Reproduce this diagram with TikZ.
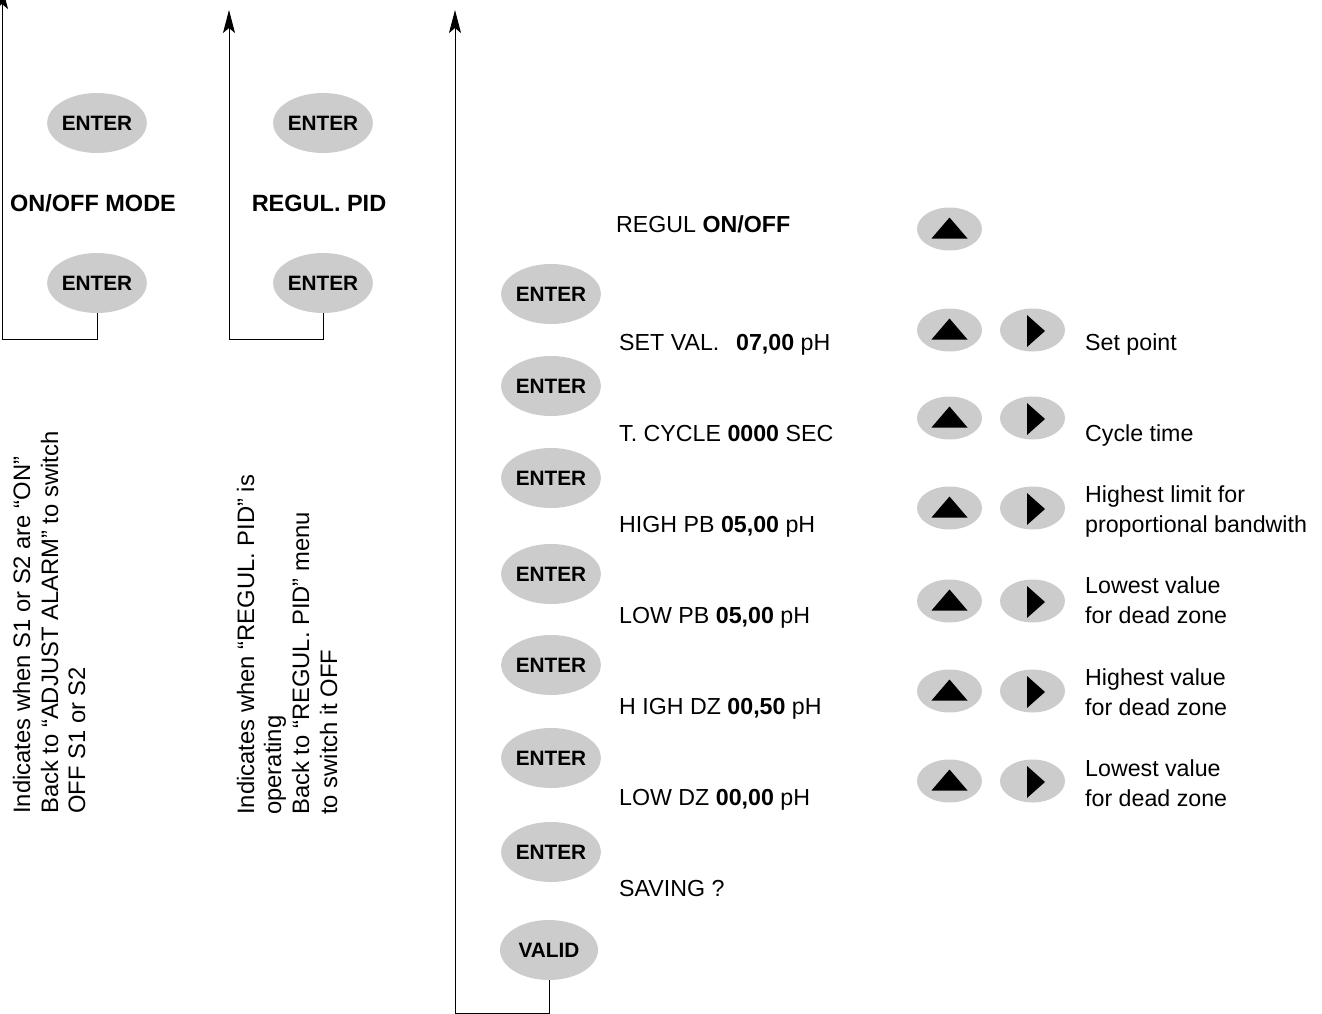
\documentclass[tikz,border=0pt]{standalone}
\usepackage{fontspec}
\setmainfont{Liberation Sans}
\usetikzlibrary{shapes.geometric,arrows.meta}
\definecolor{btn}{HTML}{CCCCCC}
\newcommand\UpTri[1]{\fill ([shift={(-18,9.5)}]#1.center) -- ([shift={(18,9.5)}]#1.center) -- ([shift={(0,-11.5)}]#1.center) -- cycle;}
\newcommand\RightTri[1]{\fill ([shift={(-5.5,-15)}]#1.center) -- ([shift={(12.5,1)}]#1.center) -- ([shift={(-5.5,17)}]#1.center) -- cycle;}
\begin{document}
\begin{tikzpicture}[x=1pt,y=-1pt,
  bigbtn/.style={ellipse,fill=btn,minimum width=98pt,minimum height=60pt,inner sep=0pt,
    font=\fontsize{20.8}{24}\selectfont\bfseries},
  smallbtn/.style={ellipse,fill=btn,minimum width=65pt,minimum height=43pt,inner sep=0pt},
  txt/.style={anchor=base west,inner sep=0pt,font=\fontsize{23.2}{28}\selectfont},
  title/.style={inner sep=0pt,font=\fontsize{23.5}{28}\selectfont\bfseries},
  rtxt/.style={anchor=base west,inner sep=0pt,rotate=90,font=\fontsize{23.8}{28}\selectfont},
  flow/.style={line width=1pt,-{Stealth[length=23pt,width=12pt,inset=5pt]}}]
\useasboundingbox (0,0) rectangle (1322,1014);

% left column 1
\node[bigbtn] (a1) at (97,123) {ENTER};
\node[title] (at) at (93,203) {ON/OFF MODE};
\node[bigbtn] (a2) at (97,283) {ENTER};
\coordinate (tipA) at (2,-14);
\draw[flow] (a2.south) -- (a2.south |- 0,339) -| (tipA);

% left column 2
\node[bigbtn] (b1) at (323,123) {ENTER};
\node[title] (bt) at (319,203) {REGUL. PID};
\node[bigbtn] (b2) at (323,283) {ENTER};
\coordinate (tipB) at (229,10);
\draw[flow] (b2.south) -- (b2.south |- 0,339) -| (tipB);

% rotated notes
\node[rtxt] (n1) at (30,814) {Indicates when S1 or S2 are “ON”};
\node[rtxt] (n2) at (58,814) {Back to “ADJUST ALARM” to switch};
\node[rtxt] (n3) at (85,814) {OFF S1 or S2};
\node[rtxt] (m1) at (254,815) {Indicates when “REGUL. PID” is};
\node[rtxt] (m2) at (281,815) {operating};
\node[rtxt] (m3) at (309,815) {Back to “REGUL. PID” menu};
\node[rtxt] (m4) at (337,815) {to switch it OFF};

% main column
\node[bigbtn] (c1) at (551,294) {ENTER};
\node[bigbtn] (c2) at (551,386) {ENTER};
\node[bigbtn] (c3) at (551,478) {ENTER};
\node[bigbtn] (c4) at (551,574) {ENTER};
\node[bigbtn] (c5) at (551,665) {ENTER};
\node[bigbtn] (c6) at (551,758) {ENTER};
\node[bigbtn] (c7) at (551,852) {ENTER};
\node[bigbtn] (cv) at (549,950) {VALID};
\coordinate (tipC) at (455,10);
\draw[flow] (cv.south) -- (cv.south |- 0,1013) -| (tipC);

\node[txt] (t0) at (616,232) {REGUL \textbf{ON/OFF}};
\node[txt] (t1) at (619,350) {SET VAL.\ \ \,\textbf{07,00} pH};
\node[txt] (t2) at (619,441) {T. CYCLE \textbf{0000} SEC};
\node[txt] (t3) at (619,532) {HIGH PB \textbf{05,00} pH};
\node[txt] (t4) at (619,623) {LOW PB \textbf{05,00} pH};
\node[txt] (t5) at (619,714) {H IGH DZ \textbf{00,50} pH};
\node[txt] (t6) at (619,805) {LOW DZ \textbf{00,00} pH};
\node[txt] (t7) at (619,896) {SAVING ?};

% arrow buttons
\foreach \i/\y in {0/229,1/330,2/418,3/508,4/601,5/691,6/781}{
  \node[smallbtn] (u\i) at (949.5,\y) {};
  \UpTri{u\i}
}
\foreach \i/\y in {1/330,2/418,3/508,4/601,5/691,6/781}{
  \node[smallbtn] (r\i) at (1032.5,\y) {};
  \RightTri{r\i}
}

% right labels
\node[txt] (l1) at (1085,350) {Set point};
\node[txt] (l2) at (1085,441) {Cycle time};
\node[txt] (l3a) at (1085,502) {Highest limit for};
\node[txt] (l3b) at (1085,532) {proportional bandwith};
\node[txt] (l4a) at (1085,593) {Lowest value};
\node[txt] (l4b) at (1085,623) {for dead zone};
\node[txt] (l5a) at (1085,685) {Highest value};
\node[txt] (l5b) at (1085,715) {for dead zone};
\node[txt] (l6a) at (1085,776) {Lowest value};
\node[txt] (l6b) at (1085,806) {for dead zone};
\end{tikzpicture}
\end{document}
